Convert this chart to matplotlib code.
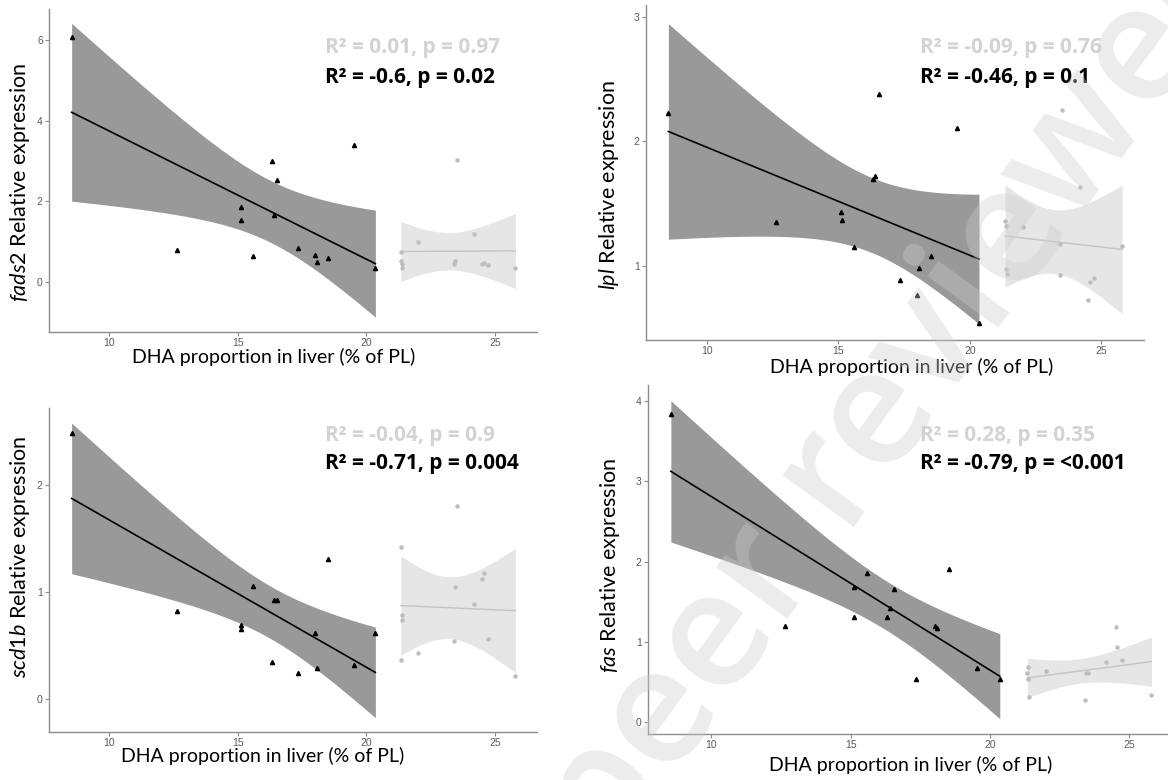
import numpy as np
import matplotlib.pyplot as plt

plt.rcParams['font.family'] = ['Lato', 'DejaVu Sans']
plt.rcParams['mathtext.fontset'] = 'custom'
plt.rcParams['mathtext.rm'] = 'Lato'
plt.rcParams['mathtext.it'] = 'Lato:italic'

# DHA proportion in liver (% of PL), shared by all genes
dha_low = [8.55, 12.64, 15.12, 15.13, 15.60, 16.32, 16.40, 16.54, 17.34, 18.01, 18.08, 18.52, 19.53, 20.35]
dha_high = [21.34, 21.36, 21.38, 21.40, 22.02, 23.41, 23.44, 23.52, 24.17, 24.51, 24.56, 24.72, 25.79]

# relative expression, black = low DHA group, grey = high DHA group
fads2_low = [6.06, 0.81, 1.85, 1.53, 0.65, 2.99, 1.67, 2.52, 0.84, 0.68, 0.50, 0.61, 3.40, 0.35]
fads2_high = [0.76, 0.53, 0.45, 0.35, 1.00, 0.45, 0.53, 3.03, 1.19, 0.44, 0.47, 0.42, 0.36]
lpl_low = [2.23, 1.35, 1.43, 1.37, 1.15, 1.70, 1.72, 2.38, 0.88, 0.76, 0.98, 1.08, 2.11, 0.54]
lpl_high = [1.36, 0.97, 1.32, 0.93, 1.31, 1.17, 0.92, 2.25, 1.63, 0.72, 0.87, 0.90, 1.16]
scd1b_low = [2.49, 0.82, 0.69, 0.65, 1.06, 0.34, 0.92, 0.92, 0.24, 0.62, 0.29, 1.31, 0.32, 0.62]
scd1b_high = [1.42, 0.36, 0.78, 0.74, 0.43, 0.54, 1.05, 1.80, 0.89, 1.12, 1.18, 0.56, 0.21]
fas_low = [3.84, 1.19, 1.31, 1.68, 1.86, 1.31, 1.42, 1.66, 0.53, 1.19, 1.17, 1.91, 0.67, 0.53]
fas_high = [0.61, 0.54, 0.68, 0.31, 0.64, 0.28, 0.61, 0.61, 0.75, 1.18, 0.93, 0.77, 0.34]

genes = ['fads2', 'lpl', 'scd1b', 'fas']
stats_high = ['R² = 0.01, p = 0.97', 'R² = -0.09, p = 0.76', 'R² = -0.04, p = 0.9', 'R² = 0.28, p = 0.35']
stats_low = ['R² = -0.6, p = 0.02', 'R² = -0.46, p = 0.1', 'R² = -0.71, p = 0.004', 'R² = -0.79, p = <0.001']
yticks = [[0, 2, 4, 6], [1, 2, 3], [0, 1, 2], [0, 1, 2, 3, 4]]

T95 = {12: 2.1788, 11: 2.2010}


def lm_band(x, y):
    x = np.asarray(x)
    y = np.asarray(y)
    n = len(x)
    b1, b0 = np.polyfit(x, y, 1)
    s = np.sqrt(np.sum((y - (b0 + b1 * x)) ** 2) / (n - 2))
    xs = np.linspace(x.min(), x.max(), 100)
    fit = b0 + b1 * xs
    se = s * np.sqrt(1 / n + (xs - x.mean()) ** 2 / np.sum((x - x.mean()) ** 2))
    return xs, fit, fit - T95[n - 2] * se, fit + T95[n - 2] * se


W, H = 1168, 780
fig = plt.figure(figsize=(W / 100, H / 100), dpi=100)

# left, top, right, bottom of each panel in pixels
boxes = [(49, 9, 537, 332), (646, 5, 1144, 340), (49, 408, 537, 732), (648, 385, 1174, 734)]
xlims = [(7.67, 26.63), (7.70, 26.62), (7.67, 26.63), (7.73, 26.6)]
ylims = [(-1.23, 6.76), (0.40, 3.10), (-0.31, 2.72), (-0.15, 4.2)]
xlab_pos = [(0.461, -0.050), (0.533, -0.053), (0.437, -0.047), (0.50, -0.062)]
ylab_pos = [(-0.035, 0.464), (-0.050, 0.463), (-0.035, 0.54), (-0.050, 0.484)]
text_pos = [(325, 48, 78), (920, 48, 77), (325, 435, 463), (920, 435, 463)]

low_data = [fads2_low, lpl_low, scd1b_low, fas_low]
high_data = [fads2_high, lpl_high, scd1b_high, fas_high]

for i, gene in enumerate(genes):
    l, t, r, b = boxes[i]
    ax = fig.add_axes([l / W, 1 - b / H, (r - l) / W, (b - t) / H])

    xs, fit, lo, hi = lm_band(dha_low, low_data[i])
    ax.fill_between(xs, lo, hi, color='#999999', lw=0, zorder=1)
    ax.plot(xs, fit, color='black', lw=1.2, zorder=2)
    ax.plot(dha_low, low_data[i], '^', color='black', ms=3, zorder=3)

    xs, fit, lo, hi = lm_band(dha_high, high_data[i])
    ax.fill_between(xs, lo, hi, color='#e6e6e6', lw=0, zorder=1)
    ax.plot(xs, fit, color='#c4c4c4', lw=1.0, zorder=2)
    ax.plot(dha_high, high_data[i], 'o', color='#bdbdbd', ms=2.2, zorder=3)

    ax.set_xlim(xlims[i])
    ax.set_ylim(ylims[i])
    ax.set_xticks([10, 15, 20, 25])
    ax.set_yticks(yticks[i])
    for s in ['top', 'right']:
        ax.spines[s].set_visible(False)
    for s in ['left', 'bottom']:
        ax.spines[s].set_color('#8c8c8c')
        ax.spines[s].set_linewidth(1.0)
    ax.tick_params(colors='#8c8c8c', labelcolor='#5a5a5a', labelsize=7.5, length=3, width=0.8, pad=1.5)
    for lab in ax.get_xticklabels() + ax.get_yticklabels():
        lab.set_family('Liberation Sans')

    ax.set_xlabel('DHA proportion in liver (% of PL)', fontsize=14)
    ax.xaxis.set_label_coords(*xlab_pos[i])
    ax.set_ylabel('$\\it{' + gene + '}$ Relative expression', fontsize=15.5)
    ax.yaxis.set_label_coords(*ylab_pos[i])

    tx, ty1, ty2 = text_pos[i]
    fig.text(tx / W, 1 - ty1 / H, stats_high[i], color='#d3d3d3', fontsize=15, family='Open Sans',
             fontweight='bold', ha='left', va='center')
    fig.text(tx / W, 1 - ty2 / H, stats_low[i], color='black', fontsize=15, family='Open Sans',
             fontweight='bold', ha='left', va='center')

# preprint watermark
fig.text(1266 / W, 1 + 40 / H, 'Preprint not peer reviewed', fontsize=118, family='Open Sans',
         fontweight='semibold', color='#cccccc', alpha=0.37, rotation=54, rotation_mode='anchor',
         ha='right', va='baseline', zorder=10)

fig.savefig('out.png', dpi=100)
